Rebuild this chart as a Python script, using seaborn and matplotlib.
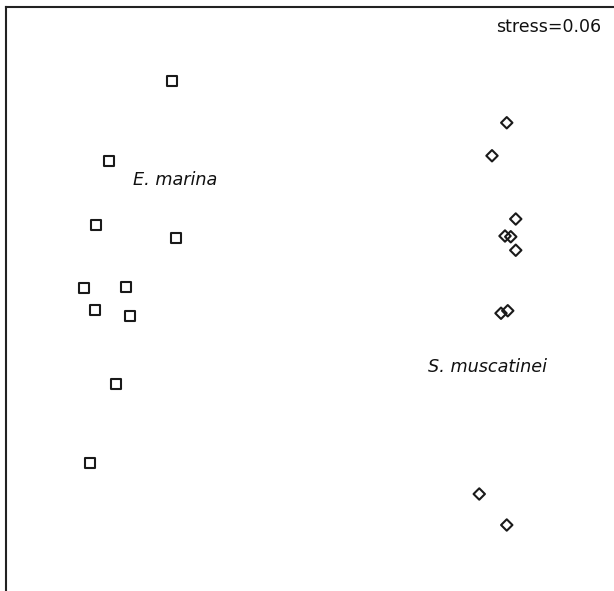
import matplotlib
matplotlib.use("Agg")
import matplotlib.pyplot as plt
import seaborn as sns
import pandas as pd

# NMDS ordination scores per sample
marina_x = [-0.511, -0.763, -0.816, -0.496, -0.864, -0.695, -0.821, -0.680, -0.736, -0.839]
marina_y = [0.877, 0.555, 0.300, 0.247, 0.048, 0.053, -0.040, -0.064, -0.336, -0.651]
musc_x = [0.827, 0.768, 0.863, 0.820, 0.843, 0.863, 0.804, 0.831, 0.717, 0.827]
musc_y = [0.709, 0.577, 0.324, 0.256, 0.253, 0.199, -0.053, -0.043, -0.776, -0.900]
groups = ["E. marina", "S. muscatinei"]
stress = 0.06

df = pd.DataFrame({
    "NMDS1": marina_x + musc_x,
    "NMDS2": marina_y + musc_y,
    "host": [groups[0]] * len(marina_x) + [groups[1]] * len(musc_x),
})

sns.set_style("white")
plt.rcParams["font.family"] = ["DejaVu Sans"]

fig = plt.figure(figsize=(6.14, 5.91), dpi=100)
W, H = 614, 591
left_px, top_px = 5.5, 7
ax = fig.add_axes([left_px / W, 0, 1 - left_px / W, 1 - top_px / H])

sns.scatterplot(data=df[df.host == groups[0]], x="NMDS1", y="NMDS2", marker="s",
                s=7.4 ** 2, facecolor="none", edgecolor="#1a1a1a", linewidth=1.5,
                ax=ax, legend=False)
sns.scatterplot(data=df[df.host == groups[1]], x="NMDS1", y="NMDS2", marker="D",
                s=5.8 ** 2, facecolor="none", edgecolor="#1a1a1a", linewidth=1.5,
                ax=ax, legend=False)

# plot region runs off the right and bottom edges
ax.set_xlim((left_px - 300) / 250, (W - 300) / 250)
ax.set_ylim((300 - H) / 250, (300 - top_px) / 250)

ax.text(-0.668, 0.48, groups[0], style="italic", fontsize=12.7, ha="left", va="center", color="#111")
ax.text(0.512, -0.268, groups[1], style="italic", fontsize=12.7, ha="left", va="center", color="#111")
ax.text(1.204, 1.09, f"stress={stress:.2f}", fontsize=12.5, ha="right", va="center", color="#111")

ax.set_xlabel("")
ax.set_ylabel("")
ax.set_xticks([])
ax.set_yticks([])
for side in ["right", "bottom"]:
    ax.spines[side].set_visible(False)
for side in ["left", "top"]:
    ax.spines[side].set_color("#222222")
    ax.spines[side].set_linewidth(1.5)

fig.savefig("out.png", dpi=100)
